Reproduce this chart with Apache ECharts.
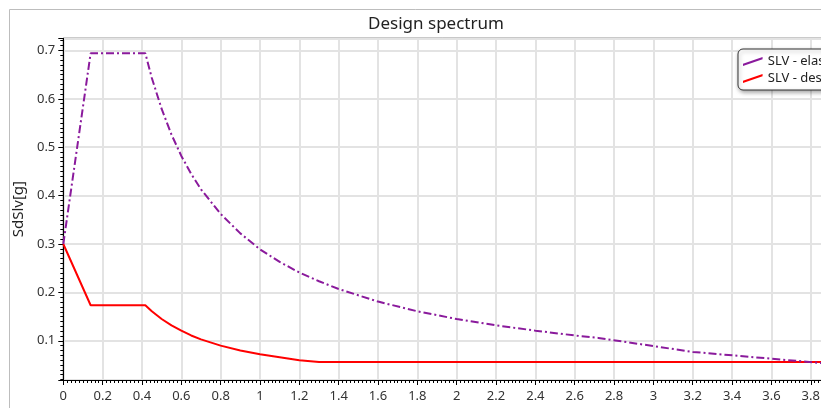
<!DOCTYPE html>
<html>
<head>
<meta charset="utf-8">
<script src="https://cdn.jsdelivr.net/npm/echarts@6/dist/echarts.min.js"></script>
<style>
  html, body { margin: 0; padding: 0; background: #fff; }
  #chart { width: 821px; height: 408px; }
</style>
</head>
<body>
<div id="chart"></div>
<script>
// Response spectra (period T in s, spectral acceleration in g)
const seriesNames = ['SLV - elastic', 'SLV - design'];

const elasticPeriods = [0, 0.139, 0.417, 0.45, 0.5, 0.55, 0.6, 0.65, 0.7, 0.8, 0.9, 1.0, 1.1, 1.2,
                        1.3, 1.4, 1.6, 1.8, 2.0, 2.2, 2.4, 2.6, 2.72, 3.2, 4.0];
const elasticValues  = [0.300, 0.694, 0.694, 0.643, 0.579, 0.526, 0.482, 0.445, 0.413, 0.362, 0.322, 0.289, 0.263, 0.241,
                        0.223, 0.207, 0.181, 0.161, 0.145, 0.132, 0.121, 0.111, 0.106, 0.077, 0.049];

const designPeriods = [0, 0.139, 0.417, 0.45, 0.5, 0.55, 0.6, 0.65, 0.7, 0.8, 0.9, 1.0, 1.1, 1.2, 1.3, 4.0];
const designValues  = [0.300, 0.1735, 0.1735, 0.161, 0.145, 0.132, 0.121, 0.111, 0.103, 0.090, 0.080, 0.072, 0.066, 0.060, 0.056, 0.056];

const xRange = [0, 4];
const xStep = 0.2;
const yRange = [0.019, 0.725];

const FONT = '"Noto Sans", "Open Sans", sans-serif';
const pair = (xs, ys) => xs.map((x, i) => [x, ys[i]]);

const chart = echarts.init(document.getElementById('chart'), null, { renderer: 'canvas' });

chart.setOption({
  animation: false,
  backgroundColor: '#fff',
  title: {
    text: 'Design spectrum',
    left: 431,
    top: 11,
    textAlign: 'center',
    textStyle: { fontFamily: FONT, fontSize: 17, fontWeight: 'normal', color: '#222' }
  },
  graphic: [{
    type: 'rect',
    silent: true,
    shape: { x: 9.5, y: 9.5, width: 900, height: 500 },
    style: { fill: 'none', stroke: '#bdbdbd', lineWidth: 1 }
  }],
  legend: {
    orient: 'vertical',
    left: 738,
    top: 49,
    padding: [5, 8, 4, 5],
    itemGap: 2,
    itemWidth: 20,
    itemHeight: 9,
    backgroundColor: '#fff',
    borderColor: '#333',
    borderWidth: 1,
    borderRadius: 5,
    shadowBlur: 4,
    shadowColor: 'rgba(0,0,0,0.35)',
    shadowOffsetX: 1,
    shadowOffsetY: 2,
    textStyle: { fontFamily: FONT, fontSize: 13, color: '#222', lineHeight: 15 },
    data: [
      { name: seriesNames[0], icon: 'path://M0,8 L20,1 L20,3.2 L0,10.2 Z', itemStyle: { color: '#8a1a9c' } },
      { name: seriesNames[1], icon: 'path://M0,8 L20,1 L20,3.2 L0,10.2 Z', itemStyle: { color: '#ff0000' } }
    ]
  },
  grid: {
    left: 63.3,
    top: 38.3,
    right: -29.1,
    bottom: 28,
    outerBoundsMode: 'none',
    containLabel: false,
    show: true,
    borderColor: '#000',
    borderWidth: 1,
    backgroundColor: 'transparent'
  },
  xAxis: {
    type: 'value',
    min: xRange[0],
    max: xRange[1],
    interval: xStep,
    axisLine: { show: true, onZero: false, lineStyle: { color: '#000', width: 1 } },
    axisTick: { show: true, length: 5, lineStyle: { color: '#000' } },
    minorTick: { show: true, splitNumber: 10, length: 3, lineStyle: { color: '#000' } },
    axisLabel: { fontFamily: FONT, fontSize: 13, color: '#333', margin: 10 },
    splitLine: { show: true, lineStyle: { color: '#e3e3e3', width: 2 } }
  },
  yAxis: {
    type: 'value',
    min: yRange[0],
    max: yRange[1],
    splitNumber: 7,
    name: 'SdSlv[g]',
    nameLocation: 'middle',
    nameGap: 35,
    nameTextStyle: { fontFamily: FONT, fontSize: 15, color: '#222' },
    axisLine: { show: true, lineStyle: { color: '#000', width: 1 } },
    axisTick: { show: true, length: 5, lineStyle: { color: '#000' } },
    minorTick: { show: true, splitNumber: 10, length: 3, lineStyle: { color: '#000' } },
    axisLabel: {
      fontFamily: FONT, fontSize: 13, color: '#333', margin: 8,
      showMinLabel: false, showMaxLabel: false,
      formatter: v => v.toFixed(1)
    },
    splitLine: { show: true, lineStyle: { color: '#e3e3e3', width: 2 } }
  },
  series: [
    {
      name: seriesNames[1],
      type: 'line',
      data: pair(designPeriods, designValues),
      symbol: 'none',
      z: 3,
      lineStyle: { color: '#ff0000', width: 2 },
      itemStyle: { color: '#ff0000' }
    },
    {
      name: seriesNames[0],
      type: 'line',
      data: pair(elasticPeriods, elasticValues),
      symbol: 'none',
      z: 4,
      lineStyle: { color: '#8a1a9c', width: 2, type: [8, 3, 2, 3] },
      itemStyle: { color: '#8a1a9c' }
    }
  ]
});
</script>
</body>
</html>
